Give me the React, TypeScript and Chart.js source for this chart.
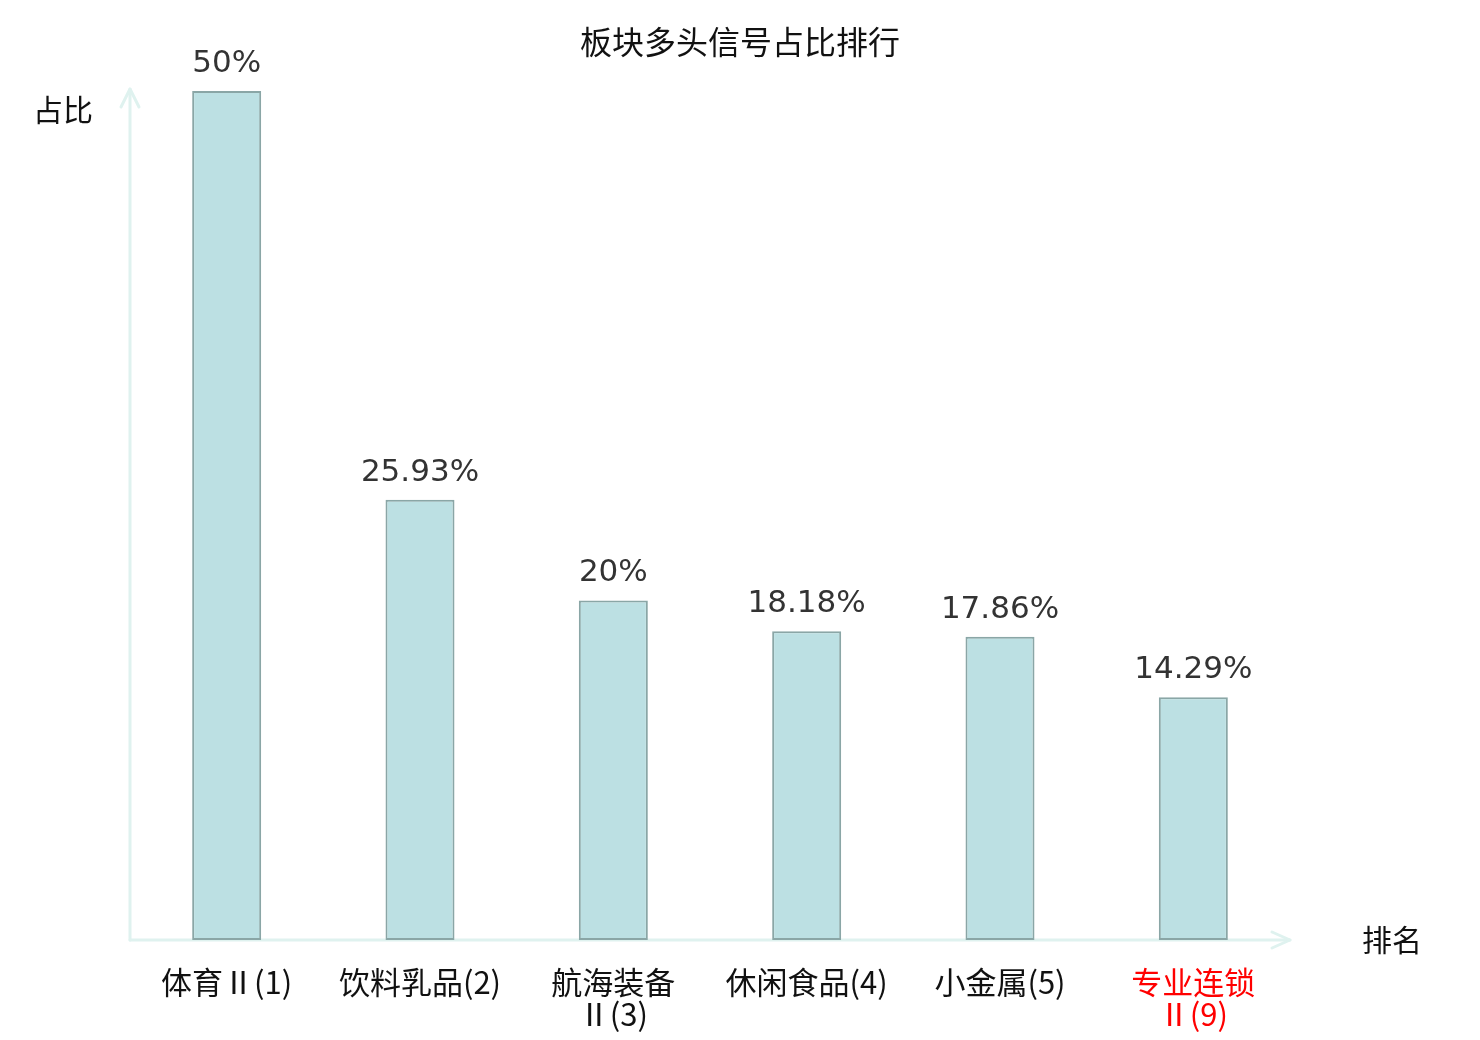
import React, { useEffect, useRef } from "react";
import { Chart, registerables } from "chart.js";

Chart.register(...registerables);

const categories: string[][] = [
  ["体育Ⅱ(1)"],
  ["饮料乳品(2)"],
  ["航海装备", "Ⅱ(3)"],
  ["休闲食品(4)"],
  ["小金属(5)"],
  ["专业连锁", "Ⅱ(9)"],
];
const values: number[] = [50, 25.93, 20, 18.18, 17.86, 14.29];
const valueLabels: string[] = ["50%", "25.93%", "20%", "18.18%", "17.86%", "14.29%"];
const highlightIndex = 5;
const titleText = "板块多头信号占比排行";
const yName = "占比";
const xName = "排名";

const CJK = '"Noto Sans CJK SC", "Noto Sans", sans-serif';
const AXIS_COLOR = "#dff2ef";

const decorPlugin = {
  id: "decor",
  beforeDatasetsDraw(chart: any) {
    const { ctx, chartArea } = chart;
    const { left, right, top, bottom } = chartArea;
    ctx.save();
    ctx.strokeStyle = AXIS_COLOR;
    ctx.lineWidth = 3;
    ctx.lineCap = "round";
    ctx.lineJoin = "round";
    // y axis
    ctx.beginPath();
    ctx.moveTo(left, bottom);
    ctx.lineTo(left, top - 2);
    ctx.stroke();
    ctx.beginPath();
    ctx.moveTo(left - 9, top + 16);
    ctx.lineTo(left, top - 2);
    ctx.lineTo(left + 9, top + 16);
    ctx.stroke();
    // x axis
    ctx.beginPath();
    ctx.moveTo(left, bottom);
    ctx.lineTo(right, bottom);
    ctx.stroke();
    ctx.beginPath();
    ctx.moveTo(right - 18, bottom - 8);
    ctx.lineTo(right, bottom);
    ctx.lineTo(right - 18, bottom + 8);
    ctx.stroke();
    ctx.restore();
  },
  afterDatasetsDraw(chart: any) {
    const { ctx, chartArea } = chart;
    ctx.save();
    // value labels
    ctx.font = '31px "DejaVu Sans", sans-serif';
    ctx.fillStyle = "#333333";
    ctx.textAlign = "center";
    ctx.textBaseline = "alphabetic";
    const meta = chart.getDatasetMeta(0);
    meta.data.forEach((bar: any, i: number) => {
      ctx.fillText(valueLabels[i], bar.x, bar.y - 19);
    });
    // title
    ctx.font = `32px ${CJK}`;
    ctx.fillStyle = "#111111";
    ctx.textBaseline = "middle";
    ctx.fillText(titleText, 740, 42);
    // axis names
    ctx.font = `30px ${CJK}`;
    ctx.fillText(yName, 63, 110);
    ctx.fillText(xName, 1392, chartArea.bottom);
    ctx.restore();
  },
};

export default function App() {
  const ref = useRef<HTMLCanvasElement>(null);
  useEffect(() => {
    if (!ref.current) return;
    const chart = new Chart(ref.current, {
      type: "bar",
      data: {
        labels: categories,
        datasets: [
          {
            data: values,
            backgroundColor: "#bce0e3",
            borderColor: "#8aa6a6",
            borderWidth: 2,
            borderSkipped: false,
            barPercentage: 0.357,
            categoryPercentage: 1,
          },
        ],
      },
      options: {
        animation: false,
        responsive: false,
        devicePixelRatio: 1,
        layout: { padding: { left: 130, right: 190, top: 91, bottom: 0 } },
        plugins: {
          legend: { display: false },
          tooltip: { enabled: false },
          title: { display: false },
        },
        scales: {
          x: {
            grid: { display: false, drawTicks: false },
            border: { display: false },
            afterFit: (scale: any) => {
              scale.height = 100;
            },
            ticks: {
              padding: 26,
              autoSkip: false,
              maxRotation: 0,
              font: { family: CJK, size: 31, lineHeight: 1.03 },
              color: (c: any) => (c.index === highlightIndex ? "#ff0000" : "#111111"),
            },
          },
          y: {
            display: false,
            min: 0,
            max: 50,
          },
        },
      },
      plugins: [decorPlugin],
    });
    return () => chart.destroy();
  }, []);
  return (
    <div style={{ position: "absolute", left: 0, top: 0, width: 1480, height: 1040, background: "#fff" }}>
      <canvas ref={ref} width={1480} height={1040} style={{ width: 1480, height: 1040 }} />
    </div>
  );
}
